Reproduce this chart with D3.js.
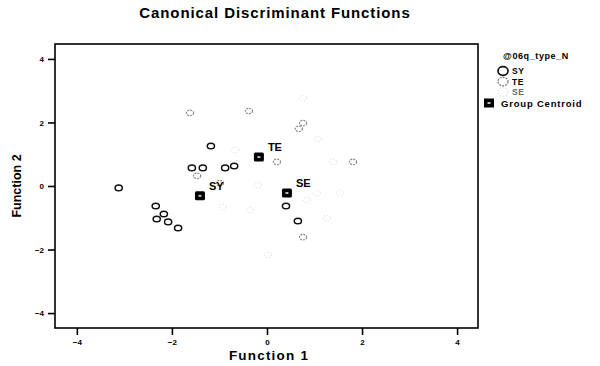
<!DOCTYPE html>
<html>
<head>
<meta charset="utf-8">
<script src="https://cdn.jsdelivr.net/npm/d3@7/dist/d3.min.js"></script>
<style>
  body { margin: 0; background: #fff; }
  svg text { font-family: 'Liberation Sans', Arial, sans-serif; }
</style>
</head>
<body>
<div id="chart"></div>
<script>
// group members: function 1 / function 2 scores
const syX = [-1.18, -1.58, -1.35, -0.88, -0.69, -3.12, 0.40, 0.65, -2.34, -2.17, -2.32, -2.08, -1.87];
const syY = [1.26, 0.57, 0.57, 0.57, 0.63, -0.06, -0.63, -1.10, -0.63, -0.88, -1.04, -1.13, -1.32];
const teX = [-1.62, -0.38, 0.76, 0.67, 0.21, 1.81, -1.47, -0.99, 0.76];
const teY = [2.30, 2.36, 1.98, 1.80, 0.76, 0.76, 0.32, 0.09, -1.61];
const seX = [1.07, 1.26, 1.05, 1.54, 0.76, 0.02, -0.19, -0.67, 0.84, -0.93, -0.36, 1.39];
const seY = [1.48, -1.01, -0.22, -0.22, 2.77, -2.17, 0.03, 1.13, -0.44, -0.66, -0.76, 0.76];

const groups = ['SY', 'TE', 'SE'];
const centroidX = [-1.41, -0.17, 0.42];
const centroidY = [-0.31, 0.91, -0.22];
const ticks = [-4, -2, 0, 2, 4];

const width = 600, height = 366;
const plot = { left: 55, top: 44, right: 478, bottom: 328 };

const svg = d3.select('#chart').append('svg')
  .attr('width', width)
  .attr('height', height);

const x = d3.scaleLinear().domain([-4.46, 4.44]).range([plot.left, plot.right]);
const y = d3.scaleLinear().domain([-4.47, 4.47]).range([plot.bottom, plot.top]);

// title
svg.append('text')
  .attr('x', 275).attr('y', 18)
  .attr('text-anchor', 'middle')
  .style('font-size', '15px').style('font-weight', 'bold')
  .style('letter-spacing', '0.9px')
  .text('Canonical Discriminant Functions');

// axes
const xAxis = svg.append('g')
  .attr('transform', `translate(0,${plot.bottom})`)
  .call(d3.axisBottom(x).tickValues(ticks).tickSize(7).tickPadding(4));
const yAxis = svg.append('g')
  .attr('transform', `translate(${plot.left},0)`)
  .call(d3.axisLeft(y).tickValues(ticks).tickSize(7).tickPadding(4));
[xAxis, yAxis].forEach(a => {
  a.select('.domain').remove();
  a.selectAll('line').attr('stroke', '#000').attr('stroke-width', 1.6);
  a.selectAll('text').style('font-size', '8px').style('font-weight', 'bold')
    .style('font-family', "'Liberation Sans', Arial, sans-serif");
});

svg.append('rect')
  .attr('x', plot.left).attr('y', plot.top)
  .attr('width', plot.right - plot.left).attr('height', plot.bottom - plot.top)
  .attr('fill', 'none').attr('stroke', '#000').attr('stroke-width', 1.6);

svg.append('text')
  .attr('x', 269).attr('y', 360)
  .attr('text-anchor', 'middle')
  .style('font-size', '13.5px').style('font-weight', 'bold').style('letter-spacing', '1.2px')
  .text('Function 1');

svg.append('text')
  .attr('transform', `translate(21,${(plot.top + plot.bottom) / 2}) rotate(-90)`)
  .attr('text-anchor', 'middle')
  .style('font-size', '12.5px').style('font-weight', 'bold')
  .text('Function 2');

// points
const styles = {
  SY: { stroke: '#111', dash: null, w: 1.5 },
  TE: { stroke: '#8a8a8a', dash: '2,1', w: 1.2 },
  SE: { stroke: '#d4d4d4', dash: '1,2', w: 1 }
};
const series = [
  { g: 'SE', xs: seX, ys: seY },
  { g: 'TE', xs: teX, ys: teY },
  { g: 'SY', xs: syX, ys: syY }
];
series.forEach(s => {
  const st = styles[s.g];
  svg.append('g').selectAll('ellipse')
    .data(s.xs.map((v, i) => [v, s.ys[i]]))
    .enter().append('ellipse')
    .attr('cx', d => x(d[0]))
    .attr('cy', d => y(d[1]))
    .attr('rx', 3.6).attr('ry', 2.8)
    .attr('fill', 'none')
    .attr('stroke', st.stroke)
    .attr('stroke-width', st.w)
    .attr('stroke-dasharray', st.dash);
});

// group centroids
const cents = groups.map((g, i) => ({ g, cx: centroidX[i], cy: centroidY[i] }));
const cg = svg.append('g').selectAll('g').data(cents).enter().append('g')
  .attr('transform', d => `translate(${x(d.cx)},${y(d.cy)})`);
cg.append('rect').attr('x', -5).attr('y', -4.5).attr('width', 10).attr('height', 9)
  .attr('rx', 1.5).attr('fill', '#000');
cg.append('rect').attr('x', -1.5).attr('y', -1).attr('width', 3).attr('height', 2)
  .attr('fill', '#bbb');
cg.append('text').attr('x', 9).attr('y', -6)
  .style('font-size', '11px').style('font-weight', 'bold')
  .text(d => d.g);

// legend
const lg = svg.append('g');
lg.append('text').attr('x', 503).attr('y', 59)
  .style('font-size', '9px').style('font-weight', 'bold').style('letter-spacing', '0.6px')
  .text('@06q_type_N');
groups.forEach((g, i) => {
  const st = styles[g];
  const ly = 71 + i * 10.5;
  lg.append('ellipse').attr('cx', 503).attr('cy', ly).attr('rx', 5).attr('ry', 4.3)
    .attr('fill', 'none').attr('stroke', st.stroke).attr('stroke-width', st.w + 0.2)
    .attr('stroke-dasharray', st.dash);
  lg.append('text').attr('x', 512).attr('y', ly + 3)
    .style('font-size', '8.5px').style('font-weight', 'bold').style('letter-spacing', '0.6px')
    .attr('fill', g === 'SE' ? '#666' : '#000')
    .text(g);
});
lg.append('rect').attr('x', 484).attr('y', 98.5).attr('width', 10).attr('height', 9).attr('fill', '#000');
lg.append('rect').attr('x', 487.5).attr('y', 102).attr('width', 3).attr('height', 2).attr('fill', '#bbb');
lg.append('text').attr('x', 501).attr('y', 106.5)
  .style('font-size', '9.5px').style('font-weight', 'bold').style('letter-spacing', '0.8px')
  .text('Group Centroid');
</script>
</body>
</html>
